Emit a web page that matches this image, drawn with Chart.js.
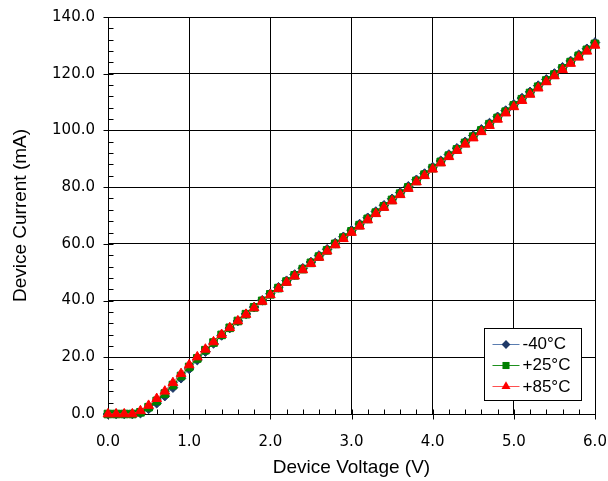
<!DOCTYPE html>
<html><head><meta charset="utf-8">
<script src="https://cdn.jsdelivr.net/npm/chart.js@4.4.1/dist/chart.umd.min.js"></script>
<style>html,body{margin:0;padding:0;background:#fff;}</style>
</head><body>
<canvas id="c" width="608" height="481"></canvas>
<script>
// ---- data ----
const voltage = [0.0,0.1,0.2,0.3,0.4,0.5,0.6,0.7,0.8,0.9,1.0,1.1,1.2,1.3,1.4,1.5,1.6,1.7,1.8,1.9,2.0,2.1,2.2,2.3,2.4,2.5,2.6,2.7,2.8,2.9,3.0,3.1,3.2,3.3,3.4,3.5,3.6,3.7,3.8,3.9,4.0,4.1,4.2,4.3,4.4,4.5,4.6,4.7,4.8,4.9,5.0,5.1,5.2,5.3,5.4,5.5,5.6,5.7,5.8,5.9,6.0];
const iMinus40 = [0,0,0,0,0.3,1.8,3.8,6.3,9.3,12.6,15.9,19.0,22.0,24.9,27.7,30.3,32.8,35.3,37.7,40.1,42.4,44.7,47.0,49.2,51.4,53.6,55.9,58.1,60.3,62.5,64.8,67.0,69.2,71.4,73.6,75.9,78.1,80.3,82.6,84.8,87.1,89.3,91.5,93.7,96.0,98.2,100.4,102.6,104.8,107.0,109.2,111.4,113.6,115.8,118.0,120.1,122.3,124.5,126.7,128.8,131.0];
const iPlus25 = [0,0,0,0,0.6,2.4,4.6,7.2,10.2,13.4,16.6,19.6,22.5,25.2,27.9,30.4,32.8,35.2,37.6,39.9,42.2,44.4,46.7,48.9,51.1,53.3,55.5,57.7,60.0,62.2,64.4,66.6,68.8,71.0,73.2,75.5,77.7,79.9,82.2,84.4,86.7,88.9,91.1,93.3,95.6,97.8,100.0,102.2,104.4,106.6,108.8,111.0,113.2,115.4,117.6,119.7,121.9,124.1,126.3,128.4,130.5];
const iPlus85 = [0,0,0,0,1.1,3.0,5.4,8.0,11.0,14.2,17.3,20.1,22.8,25.4,28.0,30.4,32.8,35.1,37.4,39.7,42.0,44.2,46.4,48.6,50.8,53.0,55.2,57.4,59.6,61.8,64.0,66.2,68.4,70.6,72.8,75.1,77.3,79.5,81.8,84.0,86.3,88.5,90.7,92.9,95.1,97.3,99.5,101.7,103.9,106.1,108.3,110.5,112.7,114.9,117.1,119.2,121.4,123.6,125.8,127.9,130.0];
const seriesLabels = ['-40°C', '+25°C', '+85°C'];
const xTickValues = [0, 1, 2, 3, 4, 5, 6];
const yTickValues = [0, 20, 40, 60, 80, 100, 120, 140];
const xMinorStep = 0.2;
const yMinorStep = 4;
const xTitle = 'Device Voltage (V)';
const yTitle = 'Device Current (mA)';

// ---- styles ----
const styles = [
  {line: '#5A7DB0', fill: '#1F3A68', shape: 'rectRot', r: 4.8},
  {line: '#1E901E', fill: '#008000', shape: 'rect', r: 5.4},
  {line: '#FF5050', fill: '#FF0000', shape: 'triangle', r: 5.6}
];
const seriesData = [iMinus40, iPlus25, iPlus85];
const drawOrder = [2, 1, 0];

const datasets = seriesData.map((arr, i) => ({
  label: seriesLabels[i],
  data: voltage.map((v, k) => ({x: v, y: arr[k]})),
  borderColor: styles[i].line,
  borderWidth: 1,
  pointStyle: styles[i].shape,
  pointRadius: styles[i].r,
  pointBackgroundColor: styles[i].fill,
  pointBorderColor: styles[i].fill,
  pointBorderWidth: 1,
  order: drawOrder[i],
  clip: false,
  tension: 0
}));

function drawMarker(ctx, shape, x, y, r) {
  ctx.beginPath();
  if (shape === 'rectRot') {
    ctx.moveTo(x, y - r); ctx.lineTo(x + r, y); ctx.lineTo(x, y + r); ctx.lineTo(x - r, y);
  } else if (shape === 'rect') {
    const s = Math.SQRT1_2 * r;
    ctx.rect(x - s, y - s, 2 * s, 2 * s);
  } else {
    for (let k = 0; k < 3; k++) {
      const a = k * 2 * Math.PI / 3;
      const px = x + Math.sin(a) * r, py = y - Math.cos(a) * r;
      if (k === 0) ctx.moveTo(px, py); else ctx.lineTo(px, py);
    }
  }
  ctx.closePath();
  ctx.fill();
}

const frame = {
  id: 'frame',
  beforeDatasetsDraw(chart) {
    const {ctx, chartArea: a, scales: {x, y}} = chart;
    ctx.save();
    ctx.strokeStyle = '#000';
    ctx.lineWidth = 1;
    ctx.beginPath();
    const L = Math.round(a.left) + 0.5, B = Math.round(a.bottom) + 0.5;
    for (let k = 0; k * yMinorStep <= 140 + 1e-9; k++) {
      const v = k * yMinorStep;
      const py = Math.round(y.getPixelForValue(v)) + 0.5;
      const major = yTickValues.includes(v);
      ctx.moveTo(major ? L - 5 : L, py); ctx.lineTo(L + 5, py);
    }
    for (let k = 0; k * xMinorStep <= 6 + 1e-9; k++) {
      const v = Math.round(k * xMinorStep * 10) / 10;
      const px = Math.round(x.getPixelForValue(v)) + 0.5;
      const major = xTickValues.includes(v);
      ctx.moveTo(px, major ? B + 5 : B); ctx.lineTo(px, B - 5);
    }
    ctx.stroke();
    ctx.restore();
  },
  afterDatasetsDraw(chart) {
    const {ctx, chartArea: a} = chart;
    ctx.save();
    const w = 97, h = 72;
    const bx = Math.round(a.right - 14 - w) + 0.5, by = Math.round(a.bottom - 14 - h) + 0.5;
    ctx.fillStyle = '#fff';
    ctx.fillRect(bx, by, w, h);
    ctx.strokeStyle = '#000';
    ctx.lineWidth = 1;
    ctx.strokeRect(bx, by, w, h);
    ctx.font = '17px "Liberation Sans", Arial, sans-serif';
    ctx.textBaseline = 'middle';
    ctx.textAlign = 'left';
    seriesLabels.forEach((lab, i) => {
      const cy = by + 15 + i * 21.3;
      ctx.strokeStyle = styles[i].line;
      ctx.beginPath();
      ctx.moveTo(bx + 8, Math.round(cy) + 0.5); ctx.lineTo(bx + 35, Math.round(cy) + 0.5);
      ctx.stroke();
      ctx.fillStyle = styles[i].fill;
      drawMarker(ctx, styles[i].shape, bx + 21.5, Math.round(cy) + 0.5, styles[i].r - 0.4);
      ctx.fillStyle = '#000';
      ctx.fillText(lab, bx + 38, cy + 1);
    });
    ctx.restore();
  }
};

new Chart(document.getElementById('c'), {
  type: 'line',
  data: {datasets},
  plugins: [frame],
  options: {
    responsive: false,
    devicePixelRatio: 1,
    animation: false,
    layout: {padding: {left: 0, top: 17, right: 13, bottom: 0}},
    plugins: {legend: {display: false}, tooltip: {enabled: false}},
    scales: {
      x: {
        type: 'linear', min: 0, max: 6,
        afterBuildTicks: s => { s.ticks = xTickValues.map(v => ({value: v})); },
        afterFit: s => { s.height = 67; s.paddingLeft = 0; s.paddingRight = 0; },
        ticks: {padding: 19, color: '#000', font: {family: '"DejaVu Sans"', size: 15},
                callback: v => Number(v).toFixed(1), maxRotation: 0, autoSkip: false},
        grid: {color: '#000', lineWidth: 1, drawTicks: false},
        border: {display: true, color: '#000', width: 1},
        title: {display: true, text: xTitle, color: '#000', padding: {top: 2, bottom: 2},
                font: {family: '"Liberation Sans", Arial', size: 19}}
      },
      y: {
        type: 'linear', min: 0, max: 140,
        afterBuildTicks: s => { s.ticks = yTickValues.map(v => ({value: v})); },
        afterFit: s => { s.width = 108; s.paddingTop = 0; s.paddingBottom = 0; },
        ticks: {padding: 13, color: '#000', font: {family: '"DejaVu Sans"', size: 15},
                callback: v => Number(v).toFixed(1), autoSkip: false},
        grid: {color: '#000', lineWidth: 1, drawTicks: false},
        border: {display: true, color: '#000', width: 1},
        title: {display: true, text: yTitle, color: '#000', padding: {top: 9, bottom: 0},
                font: {family: '"Liberation Sans", Arial', size: 19}}
      }
    }
  }
});
</script>
</body></html>
